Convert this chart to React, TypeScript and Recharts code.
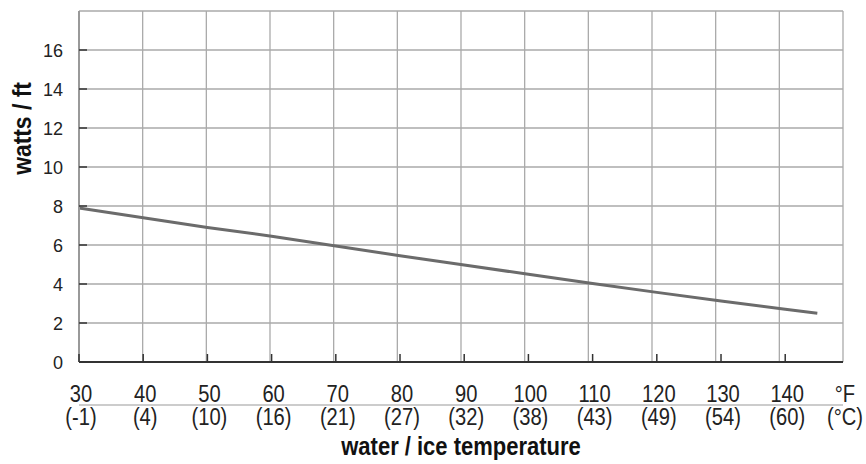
import { LineChart, Line, XAxis, YAxis, CartesianGrid } from "recharts";

// water / ice temperature in °F, heat output in watts per foot
const tempsF = [30, 40, 50, 60, 70, 80, 90, 100, 110, 120, 130, 140, 145];
const wattsPerFt = [7.9, 7.4, 6.9, 6.45, 5.95, 5.45, 4.97, 4.5, 4.03, 3.57, 3.13, 2.7, 2.5];

// axis ticks; the last x tick carries the unit labels
const xTicks = [30, 40, 50, 60, 70, 80, 90, 100, 110, 120, 130, 140, 149];
const fLabels = ["30", "40", "50", "60", "70", "80", "90", "100", "110", "120", "130", "140", "°F"];
const cLabels = ["(-1)", "(4)", "(10)", "(16)", "(21)", "(27)", "(32)", "(38)", "(43)", "(49)", "(54)", "(60)", "(°C)"];
const yTicks = [0, 2, 4, 6, 8, 10, 12, 14, 16, 18];

const data = tempsF.map((t, i) => ({ t, w: wattsPerFt[i] }));

const SANS = "'Liberation Sans', Arial, Helvetica, sans-serif";

function XTick(props: any) {
  const { x, y, payload, index } = props;
  const i = xTicks.indexOf(payload.value);
  const k = i >= 0 ? i : index;
  const last = k === xTicks.length - 1;
  return (
    <g>
      {!last && <line x1={x} x2={x} y1={y - 8} y2={y} stroke="#333" strokeWidth={1.5} />}
      <g transform={`translate(${x + 2} ${y}) scale(0.84 1)`}>
        <text x={0} y={40} textAnchor="middle" fontFamily={SANS} fontSize={24} fill="#222">
          {fLabels[k]}
        </text>
        <text x={0} y={63} textAnchor="middle" fontFamily={SANS} fontSize={24} fill="#222">
          {cLabels[k]}
        </text>
      </g>
    </g>
  );
}

function YTick(props: any) {
  const { x, y, payload } = props;
  if (payload.value === 18) return null;
  return (
    <g>
      <line x1={x + 16} x2={x + 24} y1={y} y2={y} stroke="#333" strokeWidth={1.5} />
      <text x={x} y={y} dy={6.5} textAnchor="end" fontFamily={SANS} fontSize={18} fill="#222">
        {payload.value}
      </text>
    </g>
  );
}

function YLabel({ viewBox }: any) {
  const cx = viewBox.x + 22;
  const cy = viewBox.y + viewBox.height / 2 - 58;
  return (
    <text
      transform={`translate(${cx} ${cy}) rotate(-90) scale(0.88 1)`}
      textAnchor="middle"
      dominantBaseline="central"
      fontFamily={SANS}
      fontWeight="bold"
      fontSize={26}
      fill="#111"
    >
      watts / ft
    </text>
  );
}

function XLabel({ viewBox }: any) {
  const cx = viewBox.x + viewBox.width / 2;
  return (
    <text
      transform={`translate(${cx} ${viewBox.y + 93}) scale(0.88 1)`}
      textAnchor="middle"
      fontFamily={SANS}
      fontWeight="bold"
      fontSize={25}
      fill="#111"
    >
      water / ice temperature
    </text>
  );
}

export default function App() {
  return (
    <div style={{ position: "absolute", left: 0, top: 0 }}>
      <LineChart width={866} height={464} data={data} margin={{ top: 11, right: 23, bottom: 0, left: 0 }}>
        <CartesianGrid stroke="#aaa" strokeWidth={1.3} />
        {/* thin rule between the °F and °C label rows */}
        <XAxis
          xAxisId="b"
          dataKey="t"
          type="number"
          domain={[30, 149]}
          height={59}
          tick={false}
          tickLine={false}
          axisLine={{ stroke: "#bbb", strokeWidth: 1.5 }}
        />
        <XAxis
          xAxisId="a"
          dataKey="t"
          type="number"
          domain={[30, 149]}
          ticks={xTicks}
          interval={0}
          height={43}
          tickSize={0}
          tickMargin={0}
          tickLine={false}
          axisLine={{ stroke: "#333", strokeWidth: 2 }}
          tick={<XTick />}
          label={<XLabel />}
        />
        <YAxis
          domain={[0, 18]}
          ticks={yTicks}
          interval={0}
          width={79}
          tickSize={0}
          tickMargin={16}
          tickLine={false}
          axisLine={{ stroke: "#999", strokeWidth: 2 }}
          tick={<YTick />}
          label={<YLabel />}
        />
        <Line
          xAxisId="a"
          dataKey="w"
          stroke="#6b6b6b"
          strokeWidth={3}
          dot={false}
          type="linear"
          isAnimationActive={false}
        />
      </LineChart>
    </div>
  );
}
